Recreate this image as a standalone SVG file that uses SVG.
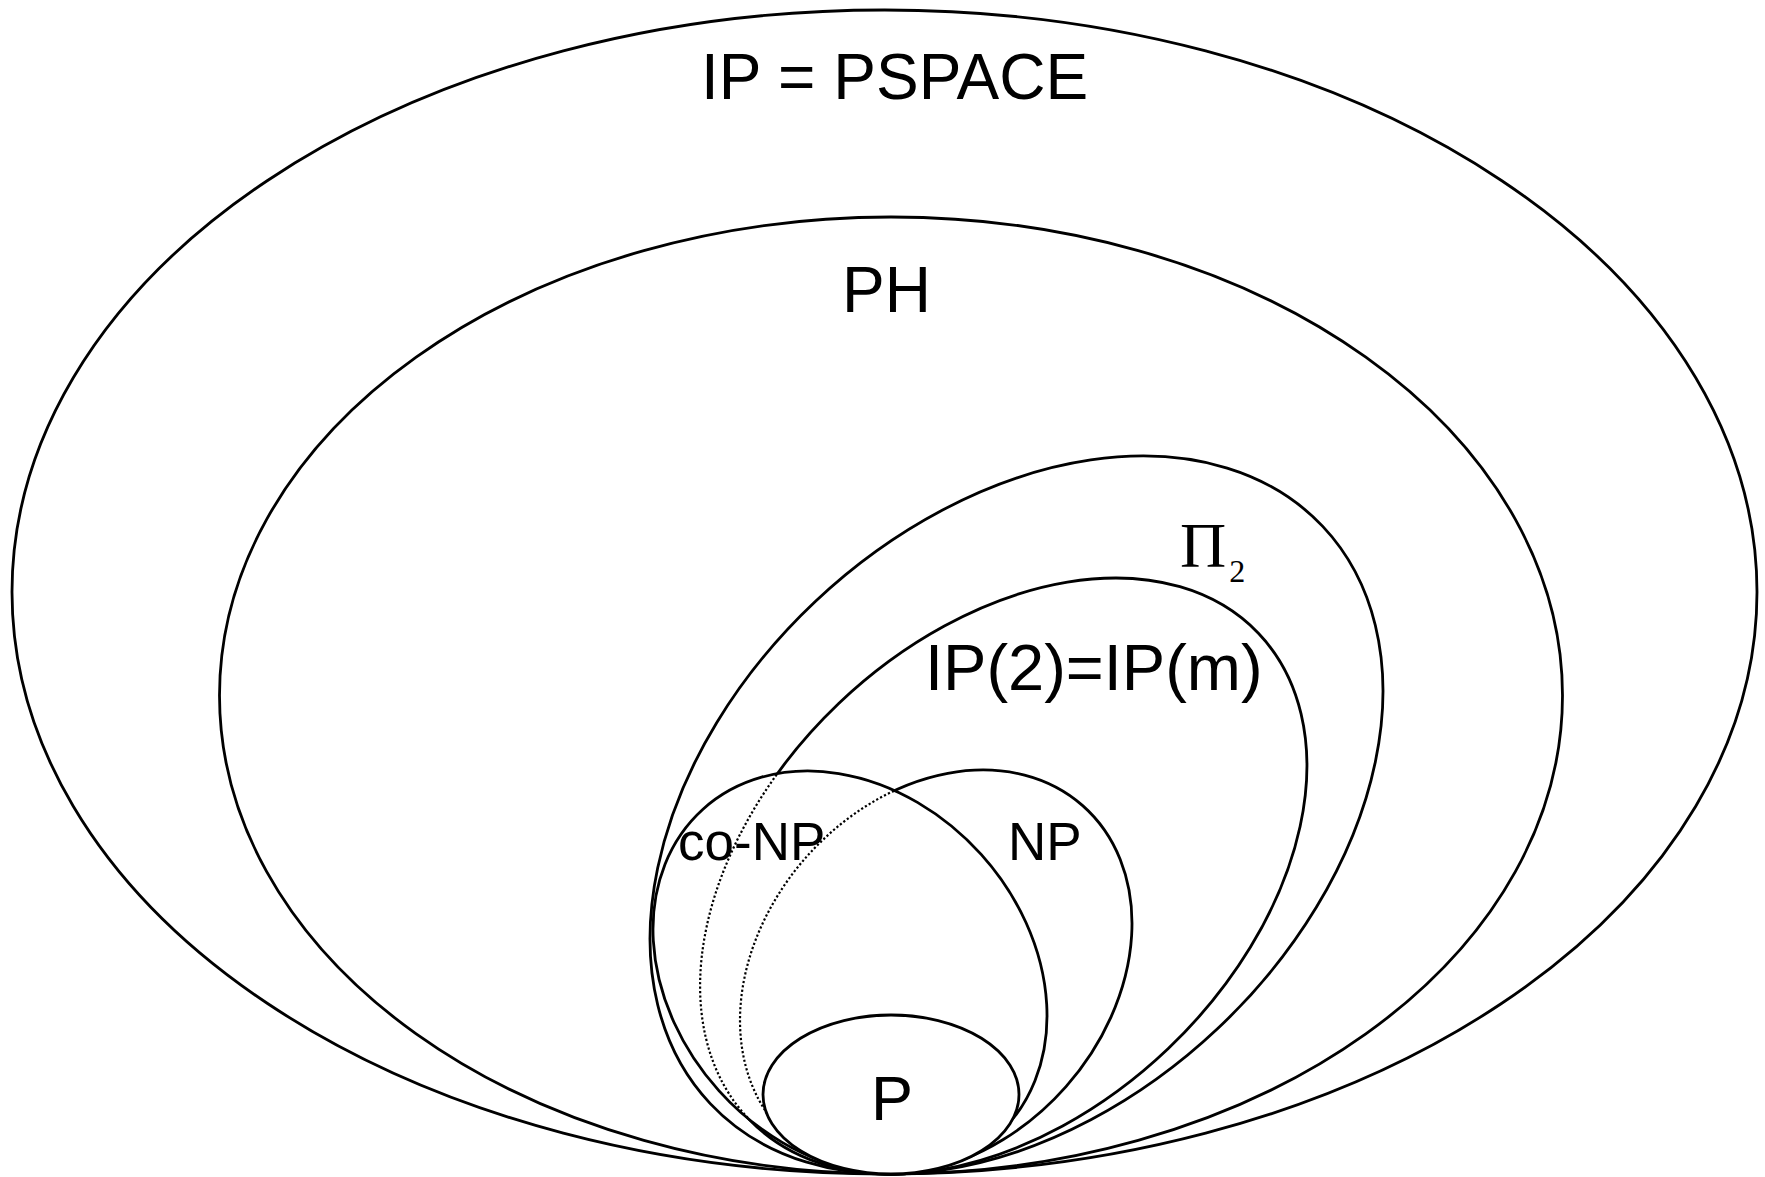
<svg xmlns="http://www.w3.org/2000/svg" width="1765" height="1177" viewBox="0 0 1765 1177">
  <defs>
    <style>
      .b{fill:none;stroke:#000;stroke-width:2.8}
      .w{fill:#fff;stroke:#000;stroke-width:2.8}
      .d{fill:none;stroke:#000;stroke-width:2.2;stroke-dasharray:2.2 2.2}
      .sans{font-family:"Liberation Sans",Arial,sans-serif;fill:#000}
      .serif{font-family:"Liberation Serif","Times New Roman",serif;fill:#000}
    </style>
    <clipPath id="in-conp">
      <ellipse cx="850" cy="972.5" rx="219.7" ry="176.5" transform="rotate(48 850 972.5)"/>
    </clipPath>
  </defs>
  <rect width="1765" height="1177" fill="#fff"/>

  <g id="ip-pspace">
    <ellipse class="b" cx="884.5" cy="592" rx="872.5" ry="582"/>
    <text class="sans" x="701" y="99" font-size="64">IP = PSPACE</text>
  </g>

  <g id="ph">
    <ellipse class="b" cx="891" cy="695.5" rx="671.5" ry="478.5"/>
    <text class="sans" x="842" y="312" font-size="64">PH</text>
  </g>

  <g id="pi2">
    <ellipse class="b" cx="1016.5" cy="815" rx="420.8" ry="293.4" transform="rotate(-43.3 1016.5 815)"/>
    <text class="serif" x="1180" y="567" font-size="64">Π<tspan font-size="32" dx="3" dy="15">2</tspan></text>
  </g>

  <g id="ip2">
    <ellipse class="b" cx="1003.5" cy="876" rx="352" ry="238.6" transform="rotate(-43.6 1003.5 876)"/>
    <text class="sans" x="925" y="690" font-size="65">IP(2)=IP(m)</text>
  </g>

  <g id="np">
    <ellipse class="b" cx="936" cy="972" rx="221.8" ry="173.3" transform="rotate(-48.6 936 972)"/>
    <text class="sans" x="1008" y="860" font-size="53">NP</text>
  </g>

  <g id="co-np">
    <ellipse class="w" cx="850" cy="972.5" rx="219.7" ry="176.5" transform="rotate(48 850 972.5)"/>
    <text class="sans" x="678" y="860" font-size="53">co-NP</text>
  </g>

  <g id="connectors">
    <g clip-path="url(#in-conp)">
      <ellipse class="d" cx="1003.5" cy="876" rx="352" ry="238.6" transform="rotate(-43.6 1003.5 876)"/>
      <ellipse class="d" cx="936" cy="972" rx="221.8" ry="173.3" transform="rotate(-48.6 936 972)"/>
    </g>
  </g>

  <g id="p">
    <ellipse class="w" cx="891" cy="1094.5" rx="128" ry="79.5"/>
    <text class="sans" x="871" y="1120" font-size="63">P</text>
  </g>
</svg>
